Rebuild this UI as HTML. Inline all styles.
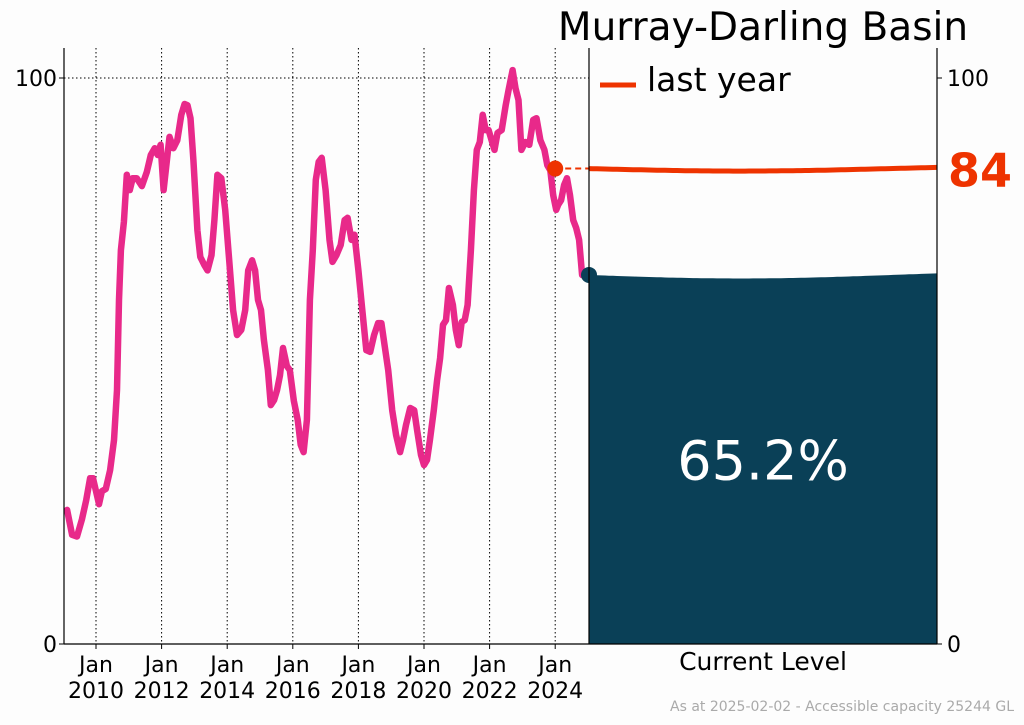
<!DOCTYPE html>
<html><head><meta charset="utf-8"><style>
body{margin:0;background:#fdfdfd;}
svg{display:block;font-family:"DejaVu Sans","Liberation Sans",sans-serif;}
</style></head><body>
<svg id="c" width="1024" height="725" viewBox="0 0 1024 725">
<rect width="1024" height="725" fill="#fdfdfd"/>
<g id="grid"></g>
<g id="tank"></g>
<g id="series"></g>
<g id="axes"></g>
<text x="763" y="40" font-size="39" text-anchor="middle" fill="#000">Murray-Darling Basin</text>
<line x1="600" y1="85" x2="636" y2="85" stroke="#ee3300" stroke-width="5"/>
<text x="647" y="91" font-size="33" fill="#000">last year</text>
<text x="1014" y="711" font-size="14" text-anchor="end" fill="#aaaaaa">As at 2025-02-02 - Accessible capacity 25244 GL</text>
</svg>
<script>
const years=[2009.12,2009.27,2009.42,2009.57,2009.7,2009.82,2009.91,2010.0,2010.09,2010.18,2010.3,2010.43,2010.55,2010.64,2010.7,2010.76,2010.85,2010.94,2011.03,2011.12,2011.24,2011.4,2011.55,2011.67,2011.79,2011.88,2011.97,2012.06,2012.24,2012.36,2012.48,2012.6,2012.7,2012.79,2012.88,2012.97,2013.09,2013.18,2013.3,2013.4,2013.52,2013.61,2013.7,2013.82,2013.94,2014.06,2014.18,2014.3,2014.43,2014.55,2014.64,2014.76,2014.85,2014.94,2015.03,2015.12,2015.24,2015.33,2015.43,2015.52,2015.61,2015.7,2015.82,2015.91,2016.03,2016.15,2016.24,2016.33,2016.43,2016.52,2016.61,2016.7,2016.79,2016.88,2017.0,2017.12,2017.21,2017.33,2017.46,2017.58,2017.67,2017.79,2017.88,2018.0,2018.12,2018.24,2018.36,2018.48,2018.6,2018.7,2018.82,2018.91,2019.03,2019.15,2019.27,2019.36,2019.45,2019.58,2019.7,2019.79,2019.91,2020.0,2020.09,2020.18,2020.3,2020.4,2020.49,2020.58,2020.67,2020.76,2020.88,2020.97,2021.06,2021.15,2021.24,2021.33,2021.43,2021.52,2021.61,2021.7,2021.79,2021.88,2021.97,2022.06,2022.15,2022.24,2022.37,2022.49,2022.58,2022.7,2022.79,2022.88,2022.97,2023.09,2023.21,2023.33,2023.43,2023.55,2023.67,2023.76,2023.85,2023.94,2024.03,2024.09,2024.18,2024.27,2024.36,2024.45,2024.55,2024.64,2024.73,2024.82,2024.91,2025.09];
const levels=[23.7,19.3,19,22,25.4,29.3,29.3,27,24.7,27,27.4,30.7,36,44.9,60.8,69.6,74.6,82.9,80.2,82.3,82.3,80.9,83.4,86.4,87.6,86.4,88.2,80.2,89.6,87.6,89,93.5,95.4,95.2,92.9,85.5,73.1,68.4,67,66,68.7,74.9,82.9,82.3,76.7,67.8,59,54.6,55.5,59,66,67.8,66,60.8,59,53.7,48.4,42.2,43.1,44.9,47.5,52.3,49.1,48.4,43,39.6,35.2,33.9,39.6,60.8,69.6,82,85.2,85.9,80.2,71.4,67.5,68.7,70.5,74.9,75.3,71.4,72.3,66,59,51.9,51.6,54.6,56.7,56.7,51.9,48.4,41.3,36.9,33.9,36,38.7,41.7,41.3,37.8,33.4,31.6,32.5,36,41.3,46.6,50.5,56.4,57.2,62.9,59.9,55.5,52.8,56.9,57.2,59.9,69.6,80.2,87.3,88.7,93.5,90.8,90.8,89,87.3,90.3,90.8,95.2,97.9,101.4,98.2,96.1,87.3,88.7,88.2,92.6,92.9,89,87.3,84.6,83.7,79.3,76.7,77.6,78.4,81.1,82.3,79.3,74.9,73.5,71.4,65.2];
const xTickYears=[2010,2012,2014,2016,2018,2020,2022,2024];
const yTicks=[0,100];
const currentLevel=65.2;
const lastYearLevel=84;
const lastYearDate=2024.0;

const NS="http://www.w3.org/2000/svg";
const X0=64,X1=589,Y0=644,Y100=78,TR=937,TOP=48;
const xs=y=>96+(y-2010)*32.8;
const ys=v=>Y0-(v/100)*(Y0-Y100);
function mk(tag,attrs,parent){const e=document.createElementNS(NS,tag);for(const k in attrs)e.setAttribute(k,attrs[k]);parent.appendChild(e);return e;}
const grid=document.getElementById('grid'),axes=document.getElementById('axes'),series=document.getElementById('series'),tank=document.getElementById('tank');

xTickYears.forEach(yr=>{
  const x=xs(yr);
  const g=mk('line',{x1:x,y1:TOP,x2:x,y2:Y0,stroke:'#000','stroke-width':1,'stroke-dasharray':'1.5,2.5'},grid);
  
  
  const t=mk('line',{x1:x,y1:Y0,x2:x,y2:Y0+5,stroke:'#000'},axes);
  
  
  const l1=mk('text',{x:x,y:672,'font-size':22,'text-anchor':'middle'},axes);l1.textContent='Jan';
  
  
  const l2=mk('text',{x:x,y:698,'font-size':22,'text-anchor':'middle'},axes);l2.textContent=String(yr);
  
  
});
const hg=mk('line',{x1:X0,y1:ys(100),x2:X1,y2:ys(100),stroke:'#000','stroke-width':1,'stroke-dasharray':'1.5,2.5'},grid);



function wave(v,amp){const y=ys(v);let d='';for(let x=X1;x<=TR;x+=4){const t=(x-X1)/(TR-X1);const yy=y+amp*Math.sin(t*Math.PI*1.15);d+=(d?'L':'M')+x+','+yy.toFixed(1);}return d;}
const water=mk('path',{d:wave(currentLevel,3.5)+`L${TR},${Y0}L${X1},${Y0}Z`,fill:'#0a4057'},tank);


const pct=mk('text',{x:763,y:ys(currentLevel/2)+20,'font-size':54,'text-anchor':'middle',fill:'#fff'},tank);
pct.textContent=currentLevel.toFixed(1)+'%';


const ly=mk('path',{d:wave(lastYearLevel,2.5),fill:'none',stroke:'#ee3300','stroke-width':5},tank);


const dash=mk('line',{x1:xs(lastYearDate),y1:ys(lastYearLevel),x2:X1,y2:ys(lastYearLevel),stroke:'#ee3300','stroke-width':2,'stroke-dasharray':'6,4'},tank);


const lyl=mk('text',{x:948,y:ys(lastYearLevel)+18,'font-size':46,'font-weight':'bold',fill:'#ee3300'},tank);
lyl.textContent=String(lastYearLevel);



let d='';years.forEach((y,i)=>{d+=(i?'L':'M')+xs(y).toFixed(1)+','+ys(levels[i]).toFixed(1);});
const line=mk('path',{d:d,fill:'none',stroke:'#e8298a','stroke-width':6.5,'stroke-linejoin':'round','stroke-linecap':'round'},series);


const rd=mk('circle',{cx:xs(lastYearDate),cy:ys(lastYearLevel),r:8,fill:'#ee3300'},series);


const cd=mk('circle',{cx:X1,cy:ys(currentLevel),r:8,fill:'#0a4057'},series);



[[X0,TOP,X0,Y0,'left-spine'],[X1,TOP,X1,Y0,'divider-spine'],[TR,TOP,TR,Y0,'right-spine'],[X0,Y0,TR,Y0,'bottom-spine']].forEach(a=>{
  const e=mk('line',{x1:a[0],y1:a[1],x2:a[2],y2:a[3],stroke:'#000','stroke-width':1.2},axes);
  
  
});
yTicks.forEach(v=>{
  const y=ys(v);
  const t1=mk('line',{x1:X0-5,y1:y,x2:X0,y2:y,stroke:'#000'},axes);
  
  
  const l=mk('text',{x:X0-7,y:y+8,'font-size':22,'text-anchor':'end'},axes);l.textContent=String(v);
  
  
  const t2=mk('line',{x1:TR,y1:y,x2:TR+5,y2:y,stroke:'#000'},axes);
  
  
  const r=mk('text',{x:TR+10,y:y+8,'font-size':22},axes);r.textContent=String(v);
  
  
});
const cl=mk('text',{x:763,y:670,'font-size':25,'text-anchor':'middle'},axes);cl.textContent='Current Level';


</script>
</body></html>
